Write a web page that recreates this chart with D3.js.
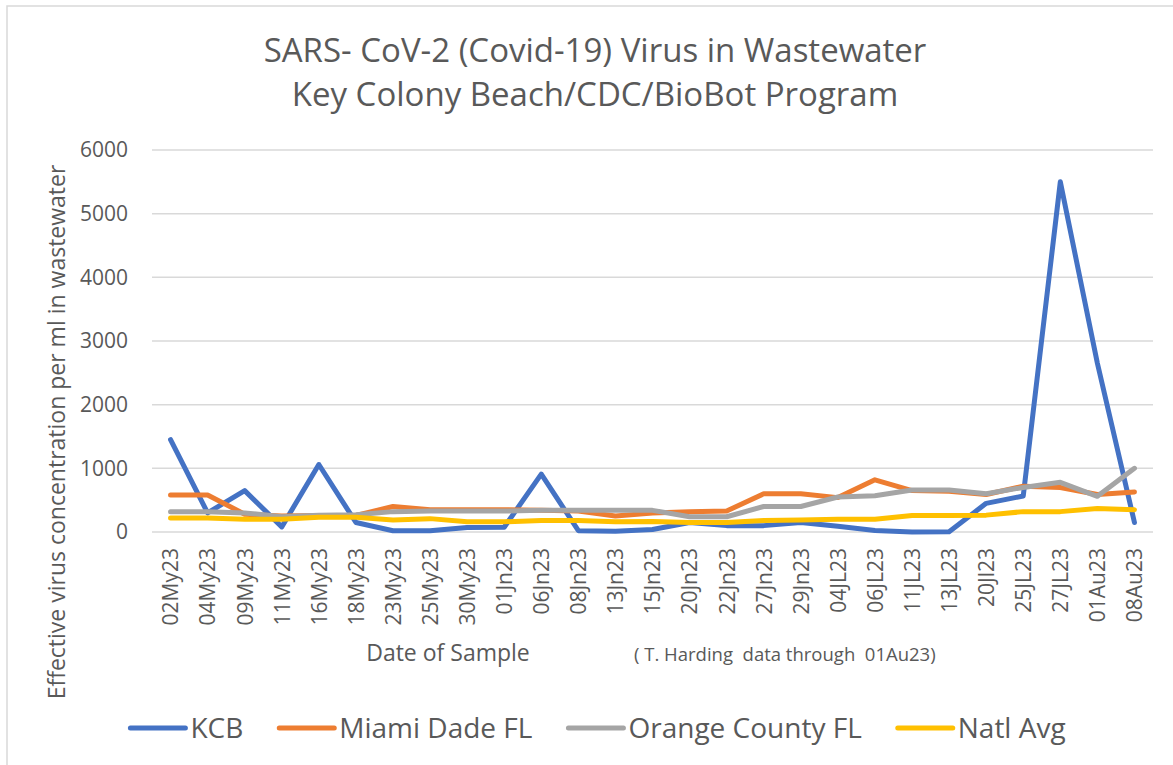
<!DOCTYPE html>
<html>
<head>
<meta charset="utf-8">
<script src="https://cdn.jsdelivr.net/npm/d3@7"></script>
<style>
  body { margin: 0; background: #fff; }
  svg text { font-family: "Open Sans", sans-serif; fill: #595959; }
</style>
</head>
<body>
<div id="chart"></div>
<script>
// Data

var dates = ["02My23", "04My23", "09My23", "11My23", "16My23", "18My23", "23My23",
    "25My23", "30My23", "01Jn23", "06Jn23", "08Jn23", "13Jn23", "15Jn23", "20Jn23",
    "22Jn23", "27Jn23", "29Jn23", "04JL23", "06JL23", "11JL23", "13JL23", "20Jl23",
    "25JL23", "27JL23", "01Au23", "08Au23"];

var kcb = [1450, 300, 650, 80, 1060, 150, 20, 20, 70, 75, 910, 20, 10, 40,
    150, 100, 100, 150, 90, 25, 0, 5, 450, 565, 5500, 2650, 150];
var miamiDade = [580, 580, 280, 250, 260, 260, 400, 350, 350, 350, 340, 330, 250, 300,
    320, 330, 600, 600, 540, 820, 650, 640, 590, 720, 700, 590, 630];
var orangeCounty = [320, 320, 300, 240, 262, 270, 320, 330, 330, 330, 340, 340, 340, 340,
    240, 240, 400, 400, 550, 570, 660, 660, 600, 700, 780, 560, 1000];
var natlAvg = [220, 220, 200, 200, 230, 230, 190, 210, 160, 160, 180, 180, 160, 165,
    150, 150, 180, 190, 200, 200, 260, 260, 265, 320, 320, 370, 350];

var seriesNames = ["KCB", "Miami Dade FL", "Orange County FL", "Natl Avg"];
var seriesColors = ["#4472C4", "#ED7D31", "#A5A5A5", "#FFC000"];
var yTicks = [0, 1000, 2000, 3000, 4000, 5000, 6000];

var width = 1173,
    height = 765;

var plot = {left: 152, right: 1153, top: 150, bottom: 532};

var svg = d3.select("#chart").append("svg")
    .attr("width", width)
    .attr("height", height);

// chart frame
svg.append("rect")
    .attr("x", 7)
    .attr("y", 6)
    .attr("width", 1200)
    .attr("height", 800)
    .attr("fill", "#fff")
    .attr("stroke", "#D9D9D9")
    .attr("stroke-width", 1.5);

var x = d3.scalePoint()
    .domain(dates)
    .range([plot.left, plot.right])
    .padding(0.5);

var y = d3.scaleLinear()
    .domain([0, 6000])
    .range([plot.bottom, plot.top]);

// gridlines
svg.append("g")
    .selectAll("line")
    .data(yTicks)
    .enter().append("line")
    .attr("x1", plot.left)
    .attr("x2", plot.right)
    .attr("y1", function(d) { return y(d); })
    .attr("y2", function(d) { return y(d); })
    .attr("stroke", "#D9D9D9")
    .attr("stroke-width", 1.5);

// y axis labels
var yAxis = svg.append("g")
    .attr("transform", "translate(" + (plot.left - 24) + ",0)")
    .call(d3.axisLeft(y).tickValues(yTicks).tickFormat(d3.format("d")).tickSize(0).tickPadding(0));
yAxis.select(".domain").remove();
yAxis.selectAll("text")
    .style("font-family", "Open Sans")
    .style("font-size", "21px")
    .attr("fill", "#595959");

// x axis labels
var xAxis = svg.append("g")
    .attr("transform", "translate(0," + plot.bottom + ")")
    .call(d3.axisBottom(x).tickSize(0));
xAxis.select(".domain").remove();
xAxis.selectAll("text")
    .style("font-family", "Open Sans")
    .style("font-size", "21px")
    .attr("fill", "#595959")
    .attr("text-anchor", "end")
    .attr("transform", "rotate(-90)")
    .attr("x", -16)
    .attr("y", 0)
    .attr("dy", "0.35em");

// lines
var allSeries = [kcb, miamiDade, orangeCounty, natlAvg];

var line = d3.line()
    .x(function(d, i) { return x(dates[i]); })
    .y(function(d) { return y(d); });

svg.append("g")
    .selectAll("path")
    .data(allSeries)
    .enter().append("path")
    .attr("d", line)
    .attr("fill", "none")
    .attr("stroke", function(d, i) { return seriesColors[i]; })
    .attr("stroke-width", 5)
    .attr("stroke-linejoin", "round")
    .attr("stroke-linecap", "round");

// titles
svg.append("text")
    .attr("x", 595)
    .attr("y", 62)
    .attr("text-anchor", "middle")
    .style("font-size", "33px")
    .text("SARS- CoV-2 (Covid-19) Virus in Wastewater");

svg.append("text")
    .attr("x", 595)
    .attr("y", 106)
    .attr("text-anchor", "middle")
    .style("font-size", "33px")
    .text("Key Colony Beach/CDC/BioBot Program");

svg.append("text")
    .attr("transform", "translate(57," + 432 + ") rotate(-90)")
    .attr("text-anchor", "middle")
    .attr("dy", "0.35em")
    .style("font-size", "23px")
    .text("Effective virus concentration per ml in wastewater");

svg.append("text")
    .attr("x", 448)
    .attr("y", 661)
    .attr("text-anchor", "middle")
    .style("font-size", "23px")
    .text("Date of Sample");

svg.append("text")
    .attr("x", 634)
    .attr("y", 661)
    .style("font-size", "18.5px")
    .style("white-space", "pre")
    .attr("xml:space", "preserve")
    .text("( T. Harding  data through  01Au23)");

// legend
var legend = svg.append("g");
var legendY = 728,
    lineLen = 55,
    gap = 5,
    itemGap = 36;

var items = legend.selectAll("g")
    .data(seriesNames)
    .enter().append("g");

items.append("line")
    .attr("x1", 0)
    .attr("x2", lineLen)
    .attr("y1", 0)
    .attr("y2", 0)
    .attr("stroke", function(d, i) { return seriesColors[i]; })
    .attr("stroke-width", 5)
    .attr("stroke-linecap", "round");

items.append("text")
    .attr("x", lineLen + gap)
    .attr("y", 10)
    .style("font-size", "28px")
    .text(function(d) { return d; });

var offset = 0;
var offsets = [];
items.each(function() {
    offsets.push(offset);
    offset += this.getBBox().width + itemGap;
});
var total = offset - itemGap;
var startX = 598 - total / 2;
items.attr("transform", function(d, i) {
    return "translate(" + (startX + offsets[i]) + "," + legendY + ")";
});
</script>
</body>
</html>
